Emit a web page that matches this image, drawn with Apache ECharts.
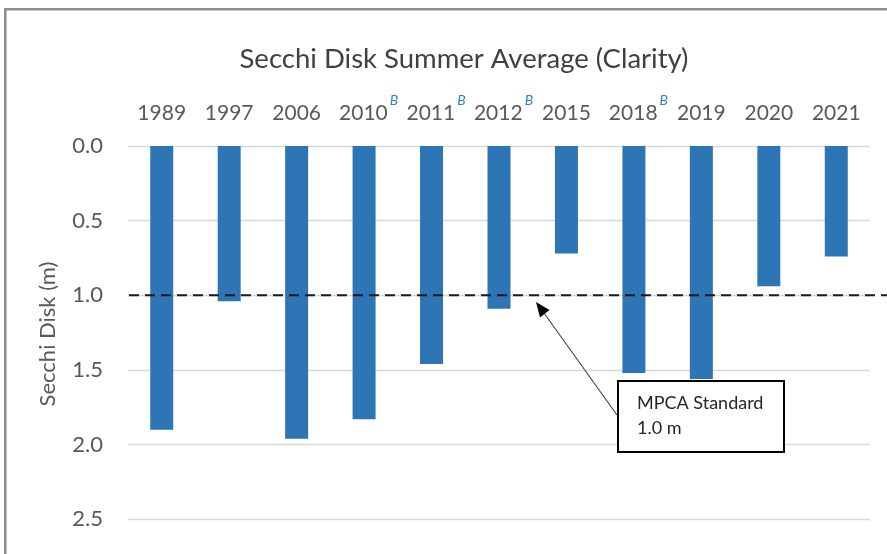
<!DOCTYPE html>
<html>
<head>
<meta charset="utf-8">
<title>Secchi Disk Summer Average (Clarity)</title>
<script src="https://cdn.jsdelivr.net/npm/echarts@6/dist/echarts.min.js"></script>
<style>
  html, body { margin: 0; padding: 0; background: #ffffff; }
  #chart { width: 887px; height: 554px; }
</style>
</head>
<body>
<div id="chart"></div>
<script>
// Summer-average Secchi disk depth by sampling year (metres)
const years = ['1989', '1997', '2006', '2010', '2011', '2012', '2015', '2018', '2019', '2020', '2021'];
const secchiDepth = [1.90, 1.04, 1.96, 1.83, 1.46, 1.09, 0.72, 1.52, 1.56, 0.94, 0.74];
// Years marked with a superscript "B"
const flaggedYears = ['2010', '2011', '2012', '2018'];
// MPCA clarity standard (metres)
const mpcaStandard = 1.0;
const yTicks = { min: 0, max: 3.0, interval: 0.5 };

const FONT = 'Lato, "Open Sans", sans-serif';
const TEXT = '#595959';

const chart = echarts.init(document.getElementById('chart'), null, { renderer: 'canvas' });

chart.setOption({
  backgroundColor: '#ffffff',
  animation: false,
  textStyle: { fontFamily: FONT },
  grid: [
    { left: 128, width: 742, top: 146, height: 448, containLabel: false, outerBoundsMode: 'none' },
    { left: 129, width: 758, top: 146, height: 448, containLabel: false, outerBoundsMode: 'none' }
  ],
  xAxis: [
    {
      type: 'category',
      data: years,
      position: 'top',
      gridIndex: 0,
      axisLine: { show: false },
      axisTick: { show: false },
      axisLabel: {
        margin: 31,
        interval: 0,
        formatter: function (v) {
          return flaggedYears.indexOf(v) >= 0 ? '{sp|}{y|' + v + '}{b|B}' : '{y|' + v + '}';
        },
        rich: {
          y: { fontSize: 21, color: TEXT, fontFamily: FONT, lineHeight: 22, padding: [19, 0, 0, 0] },
          sp: { width: 9 },
          b: { fontSize: 14, fontStyle: 'italic', color: '#2A86BE', fontFamily: FONT, verticalAlign: 'top', lineHeight: 14, padding: [0, 0, 0, 2] }
        }
      }
    },
    { type: 'value', gridIndex: 1, min: 0, max: 1, show: false }
  ],
  yAxis: [
    {
      type: 'value',
      gridIndex: 0,
      inverse: true,
      min: yTicks.min,
      max: yTicks.max,
      interval: yTicks.interval,
      axisLine: { show: false },
      axisTick: { show: false },
      splitLine: { lineStyle: { color: '#d9d9d9', width: 1.3 } },
      axisLabel: {
        margin: 25,
        fontSize: 22,
        color: TEXT,
        fontFamily: FONT,
        formatter: function (v) { return v.toFixed(1); }
      }
    },
    { type: 'value', gridIndex: 1, inverse: true, min: yTicks.min, max: yTicks.max, show: false }
  ],
  series: [
    {
      type: 'bar',
      xAxisIndex: 0,
      yAxisIndex: 0,
      data: secchiDepth,
      barWidth: 23,
      itemStyle: { color: '#2E75B6' },
      z: 2
    },
    {
      type: 'line',
      xAxisIndex: 1,
      yAxisIndex: 1,
      data: [[0, mpcaStandard], [1, mpcaStandard]],
      symbol: 'none',
      lineStyle: { color: '#1a1a1a', width: 2, type: [10, 6] },
      z: 5
    }
  ],
  graphic: [
    // Outer chart frame
    {
      type: 'rect',
      shape: { x: 5.3, y: 9.3, width: 950, height: 650 },
      style: { fill: 'none', stroke: '#8f8f8f', lineWidth: 2.5 },
      silent: true,
      z: 100
    },
    // Chart title
    {
      type: 'text',
      x: 464, y: 59,
      style: {
        text: 'Secchi Disk Summer Average (Clarity)',
        fontSize: 27.5, fontFamily: FONT, fill: '#404040',
        align: 'center', verticalAlign: 'middle'
      }
    },
    // Vertical axis title
    {
      type: 'text',
      x: 48, y: 334,
      rotation: Math.PI / 2,
      style: {
        text: 'Secchi Disk (m)',
        fontSize: 22, fontFamily: FONT, fill: TEXT,
        align: 'center', verticalAlign: 'middle'
      }
    },
    // Callout arrow pointing at the standard line
    {
      type: 'line',
      shape: { x1: 617, y1: 415, x2: 544, y2: 313 },
      style: { stroke: '#404040', lineWidth: 1.1 },
      z: 10
    },
    {
      type: 'polygon',
      shape: { points: [[536, 302], [549.5, 310], [540, 317.5]] },
      style: { fill: '#000000' },
      z: 10
    },
    // Callout box
    {
      type: 'rect',
      shape: { x: 618, y: 381, width: 166, height: 71 },
      style: { fill: '#ffffff', stroke: '#000000', lineWidth: 2 },
      z: 10
    },
    {
      type: 'text',
      x: 637, y: 391,
      style: {
        text: 'MPCA Standard\n1.0 m',
        fontSize: 18, fontFamily: FONT, fill: '#262626',
        lineHeight: 25, align: 'left', verticalAlign: 'top'
      },
      z: 11
    }
  ]
});
</script>
</body>
</html>
